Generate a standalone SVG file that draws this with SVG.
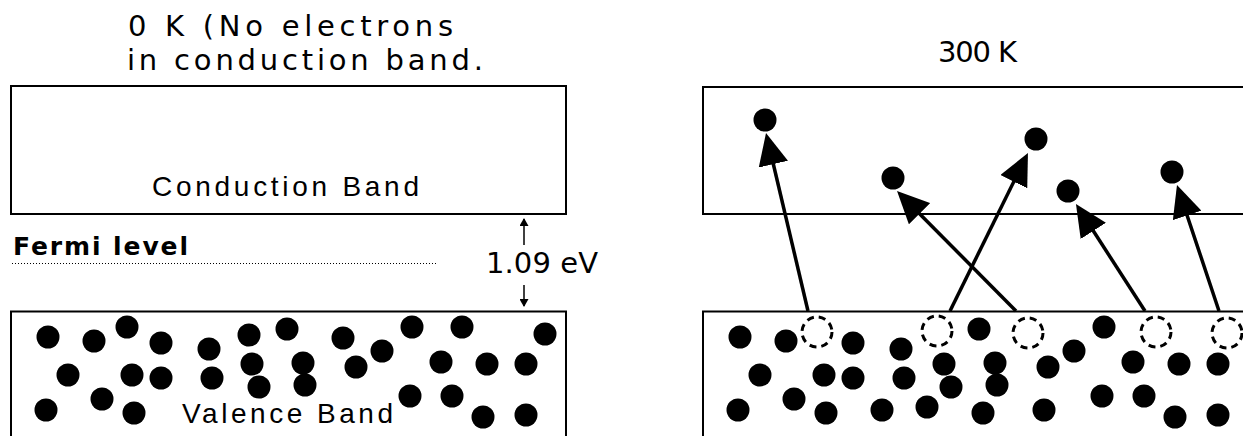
<svg xmlns="http://www.w3.org/2000/svg" width="1243" height="436" viewBox="0 0 1243 436">
  <style>
    .band { fill: none; stroke: #000; stroke-width: 2; }
    .e { fill: #000; }
    .hole { fill: none; stroke: #000; stroke-width: 3; stroke-dasharray: 7 5; }
    .title { font-family: "DejaVu Sans", "Liberation Sans", sans-serif; font-size: 29px; fill: #000; }
    .label { font-family: "Liberation Sans", "DejaVu Sans", sans-serif; font-size: 28px; fill: #000; font-weight: normal; }
    .bold { font-family: "DejaVu Sans", "Liberation Sans", sans-serif; font-size: 25px; font-weight: bold; fill: #000; }
    .jump { stroke: #000; stroke-width: 3.5; fill: none; marker-end: url(#bigHead); }
    .gap { stroke: #000; stroke-width: 1.5; fill: none; marker-end: url(#smallHead); }
  </style>
  <defs>
    <marker id="bigHead" viewBox="0 0 32 30" markerWidth="32" markerHeight="30" refX="12" refY="15" orient="auto" markerUnits="userSpaceOnUse">
      <path d="M0,0 L32,15 L0,30 z" fill="#000"/>
    </marker>
    <marker id="smallHead" viewBox="0 0 8 9" markerWidth="8" markerHeight="9" refX="7" refY="4.5" orient="auto" markerUnits="userSpaceOnUse">
      <path d="M0,0 L8,4.5 L0,9 z" fill="#000"/>
    </marker>
  </defs>
  <rect width="1243" height="436" fill="#fff"/>

  <!-- Left panel: 0 K -->
  <g id="title-0K">
    <text class="title" x="128" y="36" textLength="325" lengthAdjust="spacing">0 K (No electrons</text>
    <text class="title" x="127" y="70" textLength="356" lengthAdjust="spacing">in conduction band.</text>
  </g>
  <g id="conduction-band-0K">
    <rect class="band" x="11" y="86" width="555" height="128"/>
    <text class="label" x="152" y="196" textLength="267" lengthAdjust="spacing">Conduction Band</text>
  </g>
  <g id="fermi-level">
    <text class="bold" x="13" y="255" textLength="175" lengthAdjust="spacing">Fermi level</text>
    <line x1="12" y1="263.5" x2="437" y2="263.5" stroke="#000" stroke-width="1" stroke-dasharray="1 2"/>
  </g>
  <g id="band-gap">
    <text class="title" x="486" y="273" font-size="30" textLength="112" lengthAdjust="spacing">1.09 eV</text>
  </g>
  <g id="valence-band-0K">
    <rect class="band" x="11" y="311.5" width="555" height="140"/>
    <text class="label" x="182" y="423" textLength="211" lengthAdjust="spacing">Valence Band</text>
    <g class="e">
      <circle cx="48" cy="337" r="11.5"/><circle cx="94" cy="341" r="11.5"/><circle cx="127" cy="327" r="11.5"/>
      <circle cx="161" cy="343" r="11.5"/><circle cx="209" cy="349" r="11.5"/><circle cx="249" cy="335" r="11.5"/>
      <circle cx="287" cy="329" r="11.5"/><circle cx="343" cy="338" r="11.5"/><circle cx="382" cy="351" r="11.5"/>
      <circle cx="412" cy="327" r="11.5"/><circle cx="462" cy="327" r="11.5"/><circle cx="545" cy="334" r="11.5"/>
      <circle cx="68" cy="375" r="11.5"/><circle cx="132" cy="375" r="11.5"/><circle cx="161" cy="378" r="11.5"/>
      <circle cx="212" cy="378" r="11.5"/><circle cx="252" cy="364" r="11.5"/><circle cx="303" cy="363" r="11.5"/>
      <circle cx="356" cy="367" r="11.5"/><circle cx="441" cy="362" r="11.5"/><circle cx="487" cy="364" r="11.5"/>
      <circle cx="526" cy="364" r="11.5"/><circle cx="259" cy="387" r="11.5"/><circle cx="305" cy="385" r="11.5"/>
      <circle cx="46" cy="410" r="11.5"/><circle cx="102" cy="399" r="11.5"/><circle cx="134" cy="413" r="11.5"/>
      <circle cx="410" cy="396" r="11.5"/><circle cx="452" cy="396" r="11.5"/><circle cx="483" cy="417" r="11.5"/>
      <circle cx="526" cy="415" r="11.5"/>
    </g>
  </g>

  <!-- Right panel: 300 K -->
  <g id="title-300K">
    <text class="title" x="938" y="62" textLength="79" lengthAdjust="spacing">300 K</text>
  </g>
  <g id="conduction-band-300K">
    <rect class="band" x="703" y="87" width="600" height="127"/>
    <g class="e">
      <circle cx="765" cy="120" r="11.5"/><circle cx="893" cy="178" r="11.5"/><circle cx="1036" cy="139" r="11.5"/>
      <circle cx="1068" cy="191" r="11.5"/><circle cx="1172" cy="172" r="11.5"/>
    </g>
  </g>
  <g id="valence-band-300K">
    <rect class="band" x="703" y="311.5" width="600" height="140"/>
    <g class="e">
      <circle cx="740" cy="337" r="11.5"/><circle cx="786" cy="341" r="11.5"/><circle cx="853" cy="343" r="11.5"/>
      <circle cx="901" cy="349" r="11.5"/><circle cx="979" cy="329" r="11.5"/><circle cx="1074" cy="351" r="11.5"/>
      <circle cx="1104" cy="327" r="11.5"/><circle cx="760" cy="375" r="11.5"/><circle cx="824" cy="375" r="11.5"/>
      <circle cx="853" cy="378" r="11.5"/><circle cx="904" cy="378" r="11.5"/><circle cx="944" cy="364" r="11.5"/>
      <circle cx="995" cy="363" r="11.5"/><circle cx="1048" cy="367" r="11.5"/><circle cx="1133" cy="362" r="11.5"/>
      <circle cx="1179" cy="364" r="11.5"/><circle cx="1218" cy="364" r="11.5"/><circle cx="951" cy="387" r="11.5"/>
      <circle cx="997" cy="385" r="11.5"/><circle cx="738" cy="410" r="11.5"/><circle cx="794" cy="399" r="11.5"/>
      <circle cx="826" cy="413" r="11.5"/><circle cx="1102" cy="396" r="11.5"/><circle cx="1144" cy="396" r="11.5"/>
      <circle cx="1175" cy="417" r="11.5"/><circle cx="1218" cy="415" r="11.5"/><circle cx="882" cy="410" r="11.5"/>
      <circle cx="927" cy="407" r="11.5"/><circle cx="983" cy="413" r="11.5"/><circle cx="1044" cy="410" r="11.5"/>
    </g>
    <g id="holes">
      <circle class="hole" cx="817" cy="332" r="15"/><circle class="hole" cx="937" cy="331" r="15"/>
      <circle class="hole" cx="1028" cy="333" r="15"/><circle class="hole" cx="1156" cy="332" r="15"/>
      <circle class="hole" cx="1227" cy="333" r="15"/>
    </g>
  </g>

  <g id="connectors">
    <line class="gap" x1="524" y1="245" x2="524" y2="219"/>
    <line class="gap" x1="524" y1="285" x2="524" y2="306"/>
    <line class="jump" x1="808" y1="311" x2="770.6" y2="152.5"/>
    <line class="jump" x1="1016" y1="311" x2="911.1" y2="205.2"/>
    <line class="jump" x1="950" y1="311" x2="1019.1" y2="170.9"/>
    <line class="jump" x1="1145" y1="311" x2="1086.8" y2="220.8"/>
    <line class="jump" x1="1219" y1="311" x2="1183.3" y2="204"/>
  </g>
</svg>
